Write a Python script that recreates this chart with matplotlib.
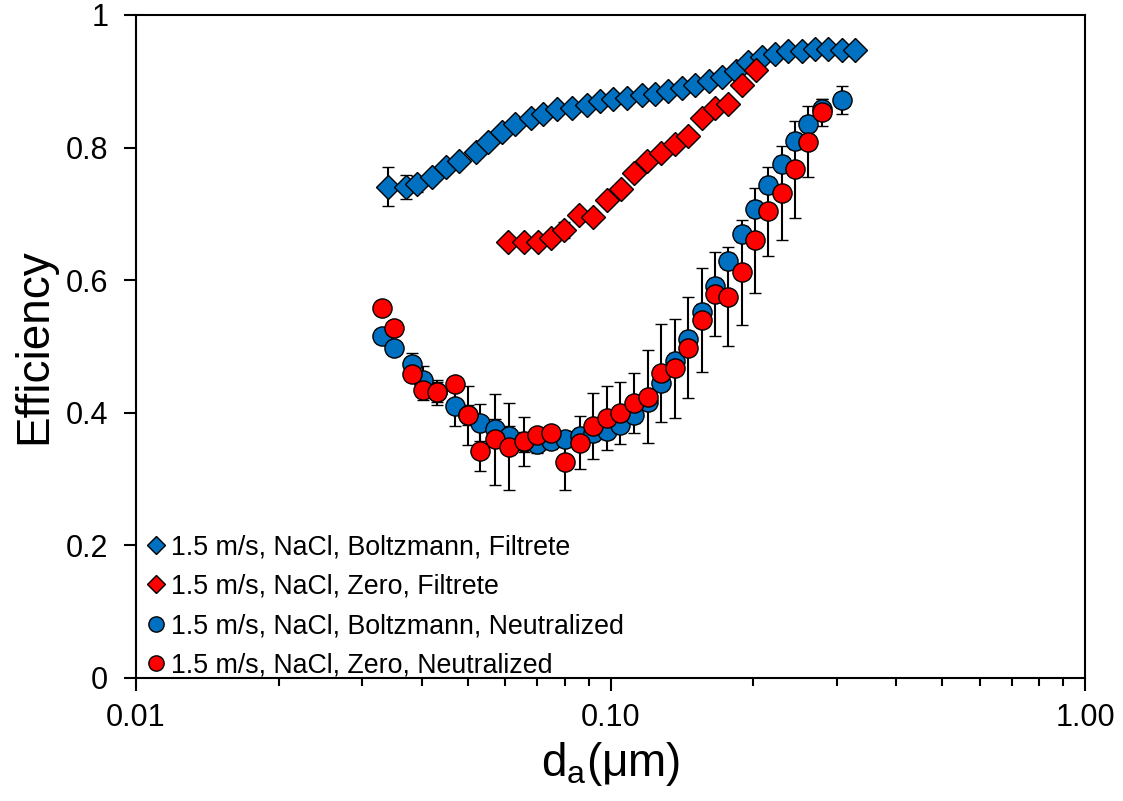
import numpy as np
import matplotlib
matplotlib.use('Agg')
import matplotlib.pyplot as plt
from matplotlib.lines import Line2D
from matplotlib.ticker import FixedLocator, FixedFormatter, LogLocator, NullFormatter

plt.rcParams['font.family'] = ['Liberation Sans', 'DejaVu Sans']

# Boltzmann, Filtrete (blue diamonds)
d_bf = [0.0340, 0.0370, 0.0391, 0.0420, 0.0450, 0.0480, 0.0521, 0.0551, 0.0590,
        0.0630, 0.0679, 0.0720, 0.0772, 0.0828, 0.0891, 0.0950, 0.1014, 0.1082,
        0.1164, 0.1241, 0.1323, 0.1413, 0.1507, 0.1613, 0.1720, 0.1836, 0.1946,
        0.2089, 0.2222, 0.2370, 0.2529, 0.2698, 0.2877, 0.3072, 0.3276]
eff_bf = [0.741, 0.740, 0.745, 0.756, 0.770, 0.780, 0.794, 0.809, 0.823,
          0.835, 0.845, 0.851, 0.858, 0.860, 0.864, 0.871, 0.874, 0.875,
          0.879, 0.881, 0.886, 0.890, 0.894, 0.901, 0.907, 0.916, 0.929,
          0.936, 0.941, 0.946, 0.945, 0.949, 0.948, 0.947, 0.947]
err_bf = [0.029, 0.018, 0.012, 0.006, 0.005, 0.005, 0.005, 0.005, 0.005,
          0.004, 0.004, 0.004, 0.004, 0.004, 0.004, 0.004, 0.004, 0.004,
          0.004, 0.004, 0.004, 0.004, 0.004, 0.004, 0.004, 0.003, 0.003,
          0.003, 0.003, 0.003, 0.003, 0.003, 0.003, 0.003, 0.003]

# Zero, Filtrete (red diamonds)
d_zf = [0.0609, 0.0658, 0.0703, 0.0749, 0.0799, 0.0859, 0.0920, 0.0982, 0.1051,
        0.1121, 0.1196, 0.1276, 0.1367, 0.1459, 0.1557, 0.1661, 0.1771, 0.1890,
        0.2023]
eff_zf = [0.658, 0.658, 0.658, 0.664, 0.675, 0.699, 0.695, 0.721, 0.737,
          0.762, 0.779, 0.792, 0.806, 0.818, 0.844, 0.860, 0.866, 0.894,
          0.917]
err_zf = [0.003, 0.005, 0.008, 0.009, 0.012, 0.009, 0.005, 0.007, 0.003,
          0.003, 0.003, 0.003, 0.008, 0.007, 0.005, 0.003, 0.003, 0.003,
          0.003]

# Boltzmann, Neutralized (blue circles)
d_bn = [0.03304, 0.03498, 0.03811, 0.04016, 0.04302, 0.04702, 0.05015, 0.05309,
        0.05710, 0.06119, 0.06581, 0.06991, 0.07490, 0.08017, 0.08624, 0.09201,
        0.09817, 0.1047, 0.1121, 0.1202, 0.1278, 0.1367, 0.1459, 0.1557,
        0.1661, 0.1771, 0.1890, 0.2016, 0.2151, 0.2295, 0.2447, 0.2611,
        0.2787, 0.3072]
eff_bn = [0.516, 0.497, 0.473, 0.450, 0.432, 0.410, 0.397, 0.385,
          0.376, 0.365, 0.356, 0.353, 0.357, 0.360, 0.365, 0.370,
          0.372, 0.382, 0.397, 0.417, 0.445, 0.478, 0.511, 0.552,
          0.591, 0.629, 0.669, 0.708, 0.743, 0.775, 0.810, 0.835,
          0.858, 0.872]
err_bn = [0.005, 0.005, 0.017, 0.020, 0.015, 0.030, 0.015, 0.028,
          0.015, 0.015, 0.015, 0.014, 0.012, 0.012, 0.012, 0.012,
          0.012, 0.012, 0.012, 0.012, 0.012, 0.012, 0.012, 0.012,
          0.012, 0.012, 0.012, 0.012, 0.012, 0.012, 0.012, 0.012,
          0.015, 0.021]

# Zero, Neutralized (red circles)
d_zn = d_bn[:-1]
eff_zn = [0.558, 0.528, 0.458, 0.434, 0.431, 0.443, 0.396, 0.342,
          0.360, 0.349, 0.357, 0.366, 0.369, 0.326, 0.355, 0.380,
          0.392, 0.400, 0.415, 0.424, 0.460, 0.467, 0.498, 0.540,
          0.579, 0.575, 0.612, 0.660, 0.704, 0.732, 0.767, 0.809,
          0.853]
err_zn = [0.005, 0.005, 0.010, 0.015, 0.019, 0.010, 0.045, 0.030,
          0.069, 0.065, 0.037, 0.010, 0.010, 0.043, 0.040, 0.050,
          0.048, 0.047, 0.045, 0.070, 0.074, 0.075, 0.076, 0.078,
          0.063, 0.075, 0.079, 0.079, 0.067, 0.071, 0.073, 0.053,
          0.020]

labels = ['1.5 m/s, NaCl, Boltzmann, Filtrete',
          '1.5 m/s, NaCl, Zero, Filtrete',
          '1.5 m/s, NaCl, Boltzmann, Neutralized',
          '1.5 m/s, NaCl, Zero, Neutralized']

blue = '#0070C0'
red = '#FF0000'

fig = plt.figure(figsize=(11.23, 8.01), dpi=100)
ax = fig.add_axes([0.1211, 0.1536, 0.8451, 0.8277])

eb_kw = dict(linestyle='none', ecolor='black', elinewidth=1.5, capsize=4.5,
             capthick=1.5, markeredgecolor='black', markeredgewidth=1.0)

series = [
    (d_bf, eff_bf, err_bf, 'D', 12.5, blue),
    (d_zf, eff_zf, err_zf, 'D', 12.5, red),
    (d_bn, eff_bn, err_bn, 'o', 13.8, blue),
    (d_zn, eff_zn, err_zn, 'o', 13.8, red),
]
for x, y, e, m, ms, c in series:
    ax.errorbar(x, y, yerr=e, marker=m, markersize=ms, markerfacecolor=c, **eb_kw)

# legend shows only the markers, no error bars
leg_ms = [9, 9, 11, 11]
handles = [Line2D([], [], linestyle='none', marker=s[3], markersize=ms,
                  markerfacecolor=s[5], markeredgecolor='black', markeredgewidth=1.0)
           for s, ms in zip(series, leg_ms)]

ax.set_xscale('log')
ax.set_xlim(0.01, 1.0)
ax.set_ylim(0, 1)

ax.xaxis.set_major_locator(FixedLocator([0.01, 0.1, 1.0]))
ax.xaxis.set_major_formatter(FixedFormatter(['0.01', '0.10', '1.00']))
ax.xaxis.set_minor_locator(LogLocator(base=10, subs=np.arange(2, 10)))
ax.xaxis.set_minor_formatter(NullFormatter())
ax.set_yticks([0, 0.2, 0.4, 0.6, 0.8, 1.0])
ax.set_yticklabels(['0', '0.2', '0.4', '0.6', '0.8', '1'])

ax.tick_params(axis='both', which='major', direction='out', length=9, width=1.5,
               labelsize=22, top=False, right=False)
ax.tick_params(axis='x', which='minor', direction='out', length=6, width=1.5,
               top=False)
ax.tick_params(axis='x', which='major', pad=9)
ax.tick_params(axis='y', which='major', pad=11)
for sp in ax.spines.values():
    sp.set_linewidth(1.5)

ax.set_xlabel(r'$\mathregular{d_a}$(μm)', fontsize=33, labelpad=5)
ax.set_ylabel('Efficiency', fontsize=33, labelpad=7)

ax.legend(handles=handles, labels=labels, loc='lower left',
          bbox_to_anchor=(-0.006, -0.021), frameon=False, fontsize=19.3,
          handlelength=0.9, handletextpad=0.12, labelspacing=0.50,
          borderpad=0.2, borderaxespad=0.3)

fig.savefig('out.png', dpi=100)
